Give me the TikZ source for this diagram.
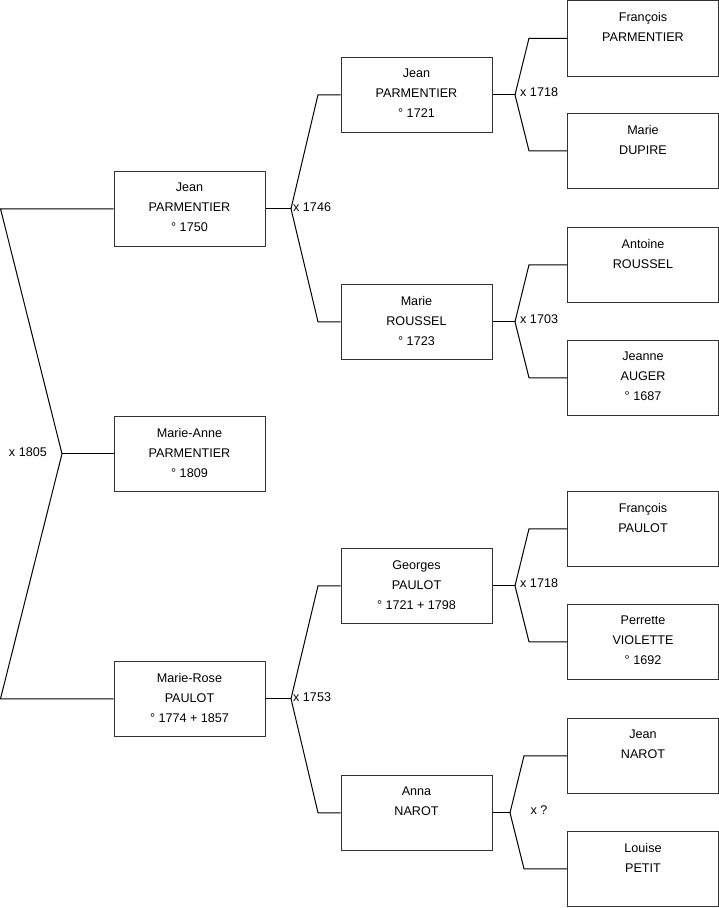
\documentclass[tikz,border=0pt]{standalone}
\usepackage{fontspec}
\setmainfont{Liberation Sans}
\tikzset{
  box/.style={draw=black!80, line width=1pt, minimum width=151pt, minimum height=75.5pt, inner sep=0pt},
  ptxt/.style={anchor=north, align=center, inner sep=0pt, font=\fontsize{12.6}{20}\selectfont},
  conn/.style={draw=black, line width=1pt},
  mlab/.style={inner sep=0pt, font=\fontsize{12.6}{15}\selectfont}
}
\newcommand\person[4]{%
  \node[box] (#1) at (#2,#3+37.75) {};
  \node[ptxt] (#1-t) at (#2,#3+12) {#4};}
\begin{document}
\begin{tikzpicture}[x=1pt,y=-1pt]
\useasboundingbox (0,0) rectangle (719,908);
% column 1
\person{jp1750}{189.5}{171}{Jean\\PARMENTIER\\° 1750}
\person{map}{189.5}{416}{Marie-Anne\\PARMENTIER\\° 1809}
\person{mrp}{189.5}{661}{Marie-Rose\\PAULOT\\° 1774 + 1857}
% column 2
\person{jp1721}{416.5}{57}{Jean\\PARMENTIER\\° 1721}
\person{mr}{416.5}{284}{Marie\\ROUSSEL\\° 1723}
\person{gp}{416.5}{548}{Georges\\PAULOT\\° 1721 + 1798}
\person{an}{416.5}{775}{Anna\\NAROT}
% column 3
\person{fp}{643}{0.5}{François\\PARMENTIER}
\person{md}{643}{113}{Marie\\DUPIRE}
\person{ar}{643}{227}{Antoine\\ROUSSEL}
\person{ja}{643}{340}{Jeanne\\AUGER\\° 1687}
\person{fpa}{643}{491}{François\\PAULOT}
\person{pv}{643}{604}{Perrette\\VIOLETTE\\° 1692}
\person{jn}{643}{718}{Jean\\NAROT}
\person{lp}{643}{831}{Louise\\PETIT}
% junctions
\coordinate (j0) at (62,0 |- map.west);
\coordinate (j1) at (291,0 |- jp1750.east);
\coordinate (j2) at (291,0 |- mrp.east);
\coordinate (j3) at (515,0 |- jp1721.east);
\coordinate (j4) at (515,0 |- mr.east);
\coordinate (j5) at (515,0 |- gp.east);
\coordinate (j6) at (510,0 |- an.east);
% connectors
\draw[conn] (jp1750.west) -- (0.5,0 |- jp1750.west) -- (j0) -- (0.5,0 |- mrp.west) -- (mrp.west);
\draw[conn] (j0) -- (map.west);
\draw[conn] (jp1750.east) -- (j1);
\draw[conn] (j1) -- (318,0 |- jp1721.west) -- (jp1721.west);
\draw[conn] (j1) -- (318,0 |- mr.west) -- (mr.west);
\draw[conn] (mrp.east) -- (j2);
\draw[conn] (j2) -- (318,0 |- gp.west) -- (gp.west);
\draw[conn] (j2) -- (318,0 |- an.west) -- (an.west);
\draw[conn] (jp1721.east) -- (j3);
\draw[conn] (j3) -- (529,0 |- fp.west) -- (fp.west);
\draw[conn] (j3) -- (529,0 |- md.west) -- (md.west);
\draw[conn] (mr.east) -- (j4);
\draw[conn] (j4) -- (529,0 |- ar.west) -- (ar.west);
\draw[conn] (j4) -- (529,0 |- ja.west) -- (ja.west);
\draw[conn] (gp.east) -- (j5);
\draw[conn] (j5) -- (529,0 |- fpa.west) -- (fpa.west);
\draw[conn] (j5) -- (529,0 |- pv.west) -- (pv.west);
\draw[conn] (an.east) -- (j6);
\draw[conn] (j6) -- (524,0 |- jn.west) -- (jn.west);
\draw[conn] (j6) -- (524,0 |- lp.west) -- (lp.west);
% marriage labels
\node[mlab, anchor=east] (x1805) at (47,452.5) {x 1805};
\node[mlab, anchor=west] (x1746) at (293,207) {x 1746};
\node[mlab, anchor=west] (x1753) at (293,697) {x 1753};
\node[mlab, anchor=west] (x1718a) at (520,92.5) {x 1718};
\node[mlab, anchor=west] (x1703) at (520,319) {x 1703};
\node[mlab, anchor=west] (x1718b) at (520,583) {x 1718};
\node[mlab] (xq) at (539,810.5) {x ?};
\end{tikzpicture}
\end{document}
